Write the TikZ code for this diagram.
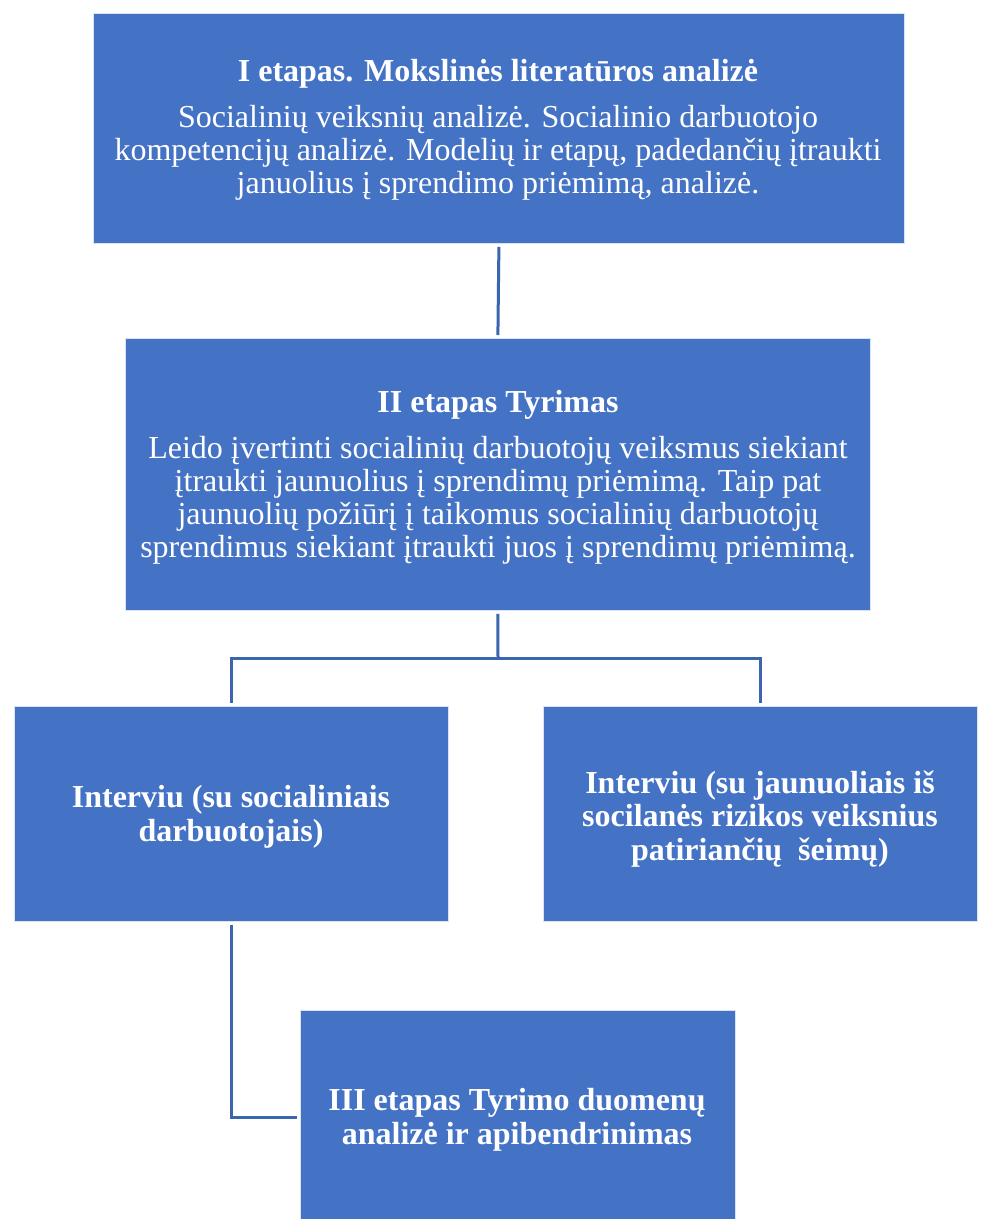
\documentclass[tikz,border=0pt]{standalone}
\usepackage{fontspec}
\setmainfont{Liberation Serif}
\definecolor{boxblue}{HTML}{4472C4}
\definecolor{lineblue}{HTML}{3B65B1}
\begin{document}
\begin{tikzpicture}[x=1pt,y=-1pt,
  stagebox/.style={fill=boxblue,draw=white!80!boxblue,line width=0.8pt,text=white,align=center,inner sep=0pt,anchor=north west},
  conn/.style={draw=lineblue,line width=3pt},
  ttl/.style={font=\fontsize{32}{33.5}\selectfont\bfseries,text=white,align=center,inner sep=0pt,anchor=base},
  body/.style={font=\fontsize{32}{33}\selectfont,text=white,align=center,inner sep=0pt,anchor=base}]
\useasboundingbox (0,0) rectangle (984,1219);
\clip (0,0) rectangle (984,1219);
% boxes
\node[stagebox,minimum width=811pt,minimum height=230pt] (b1) at (93,13) {};
\node[stagebox,minimum width=745pt,minimum height=272pt] (b2) at (125,338) {};
\node[stagebox,minimum width=434pt,minimum height=215pt] (b3) at (14,706) {};
\node[stagebox,minimum width=434pt,minimum height=215pt] (b4) at (543,706) {};
\node[stagebox,minimum width=435pt,minimum height=230pt] (b5) at (300,1010) {};
% texts (anchor = baseline of the last line)
\node[ttl] (t1) at (498,81) {I etapas. Mokslinės literatūros analizė};
\node[body] (d1) at (498,193) {Socialinių veiksnių analizė. Socialinio darbuotojo\\kompetencijų analizė. Modelių ir etapų, padedančių įtraukti\\januolius į sprendimo priėmimą, analizė.};
\node[ttl] (t2) at (498,412) {II etapas Tyrimas};
\node[body] (d2) at (498,557) {Leido įvertinti socialinių darbuotojų veiksmus siekiant\\įtraukti jaunuolius į sprendimų priėmimą. Taip pat\\jaunuolių požiūrį į taikomus socialinių darbuotojų\\sprendimus siekiant įtraukti juos į sprendimų priėmimą.};
\node[ttl] (t3) at (231,841) {Interviu (su socialiniais\\darbuotojais)};
\node[ttl] (t4) at (760,860) {Interviu (su jaunuoliais iš\\socilanės rizikos veiksnius\\patiriančių\ \ šeimų)};
\node[ttl] (t5) at (517,1144) {III etapas Tyrimo duomenų\\analizė ir apibendrinimas};
% connectors
\coordinate (j) at (498,658);
\draw[conn] ([yshift=-3pt]b1.south) -- ([yshift=3pt]b2.north);
\draw[conn] ([yshift=-3pt]b2.south) -- (j);
\draw[conn] (j) -| ([yshift=3pt]b3.north);
\draw[conn] (j) -| ([yshift=3pt]b4.north);
\draw[conn] ([yshift=-3pt]b3.south) |- ([xshift=-3pt]b5.west |- 0,1117);
\end{tikzpicture}
\end{document}
